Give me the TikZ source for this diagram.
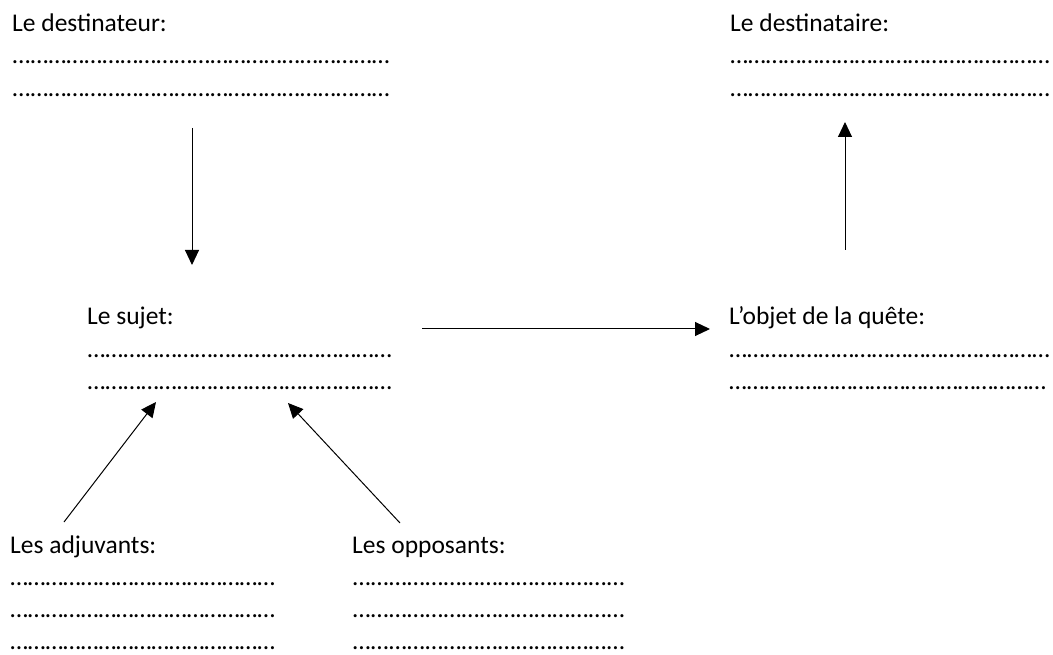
\documentclass[tikz,border=0pt]{standalone}
\usepackage{fontspec}
\setmainfont{Carlito}
\usetikzlibrary{arrows.meta}
% a row of ellipsis characters stretched to a given width
\newcommand{\dotrow}[1]{\hbox to #1{\xleaders\hbox{…}\hfill}}
\begin{document}
\begin{tikzpicture}[x=1pt,y=-1pt,
  txt/.style={anchor=base west, inner sep=0pt, font=\fontsize{25.5}{30}\selectfont},
  conn/.style={line width=1pt, -{Triangle[length=15pt,width=14pt]}}]
\useasboundingbox (0,0) rectangle (1053,655);

% destinateur
\node[txt] (dest)  at (12,32) {Le destinateur:};
\node[txt] (destA) at (12,64) {\dotrow{378pt}};
\node[txt] (destB) at (12,97) {\dotrow{378pt}};

% destinataire
\node[txt] (dtre)  at (730,32) {Le destinataire:};
\node[txt] (dtreA) at (730,64) {\dotrow{320pt}};
\node[txt] (dtreB) at (730,97) {\dotrow{320pt}};

% sujet
\node[txt] (suj)  at (87,325) {Le sujet:};
\node[txt] (sujA) at (87,357) {\dotrow{305pt}};
\node[txt] (sujB) at (87,389) {\dotrow{305pt}};

% objet
\node[txt] (obj)  at (729,325) {L’objet de la quête:};
\node[txt] (objA) at (729,357) {\dotrow{321pt}};
\node[txt] (objB) at (729,389) {\dotrow{317pt}};

% adjuvants
\node[txt] (adj)  at (10,553) {Les adjuvants:};
\node[txt] (adjA) at (10,585) {\dotrow{265pt}};
\node[txt] (adjB) at (10,617) {\dotrow{265pt}};
\node[txt] (adjC) at (10,649) {\dotrow{265pt}};

% opposants
\node[txt] (opp)  at (352,553) {Les opposants:};
\node[txt] (oppA) at (352,585) {\dotrow{273pt}};
\node[txt] (oppB) at (352,617) {\dotrow{273pt}};
\node[txt] (oppC) at (352,649) {\dotrow{273pt}};

% arrow ends
\coordinate (dDown0) at (192,128);
\coordinate (dDown1) at (192,265);
\coordinate (dUp0)   at (845,250);
\coordinate (dUp1)   at (845,122);
\coordinate (hor0)   at (422,329);
\coordinate (hor1)   at (710,329);
\coordinate (adj0)   at (64,522);
\coordinate (adj1)   at (156,402);
\coordinate (opp0)   at (400,523);
\coordinate (opp1)   at (288,403);

\draw[conn] (dDown0) -- (dDown1);
\draw[conn] (dUp0) -- (dUp1);
\draw[conn] (hor0) -- (hor1);
\draw[conn] (adj0) -- (adj1);
\draw[conn] (opp0) -- (opp1);
\end{tikzpicture}
\end{document}
